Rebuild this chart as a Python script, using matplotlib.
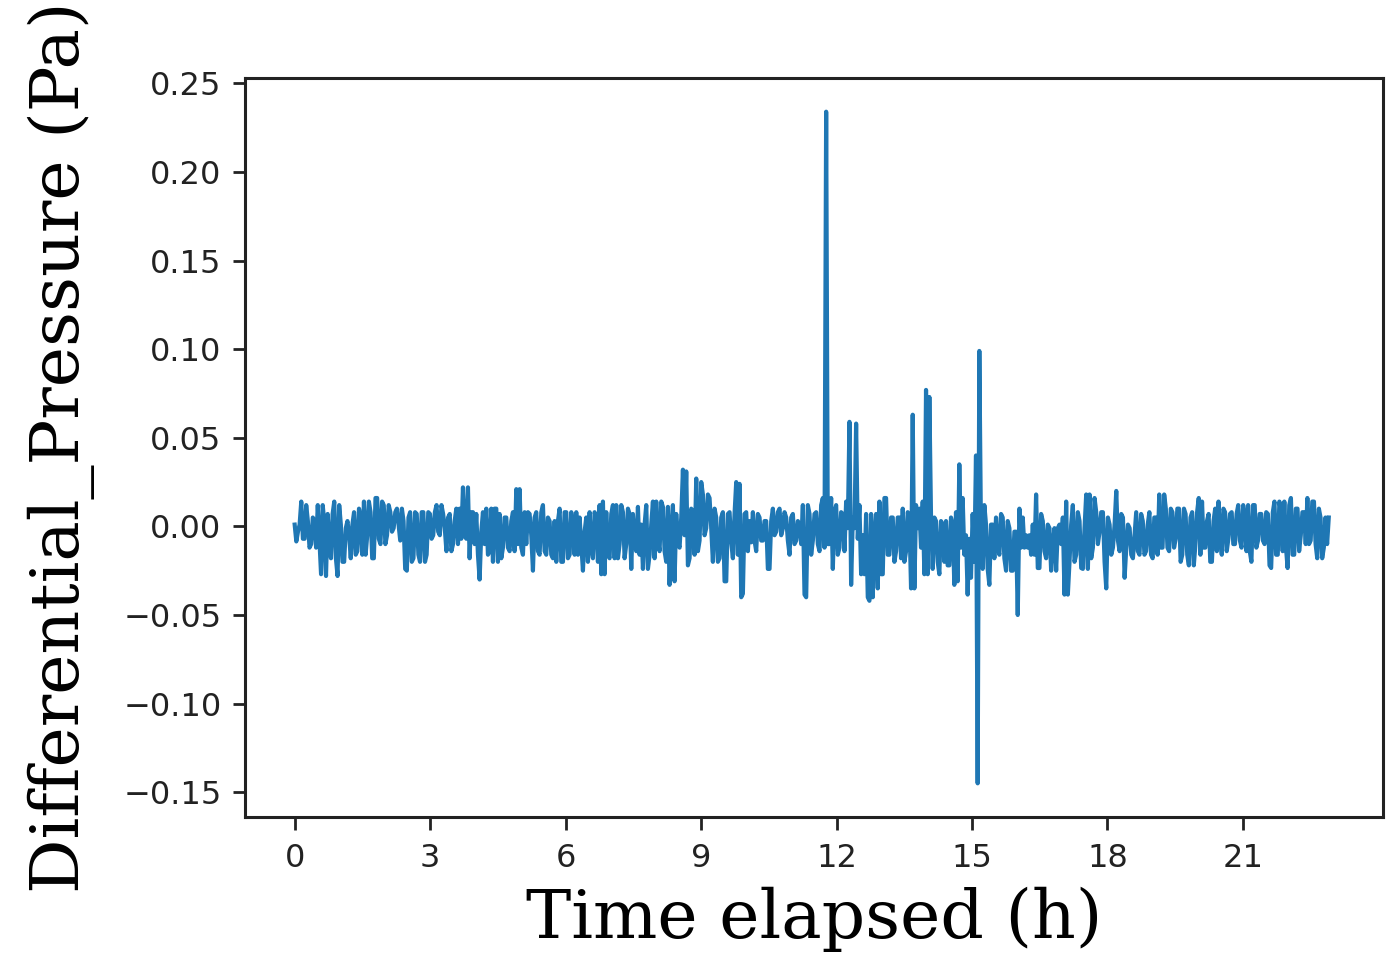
import matplotlib
matplotlib.use("Agg")
import matplotlib.pyplot as plt
import numpy as np

# differential pressure (Pa), in six time blocks (hours)
bloques = [0.0, 3.653, 7.417, 11.18, 14.94, 18.49, 22.9]

p1 = [0.001, -0.0085, -0.003, 0.001, 0.014, -0.007, -0.007, 0.012, 0.003, -0.012,
      -0.010, 0.005, 0.003, -0.012, 0.012, -0.007, -0.027, 0.012, 0.002, -0.028,
      0.007, -0.010, -0.018, 0.007, 0.014, -0.018, -0.028, 0.012, 0.001, -0.020,
      -0.020, -0.001, 0.003, -0.005, -0.018, 0.001, 0.008, -0.016, -0.014, 0.010,
      0.005, -0.016, 0.014, -0.016, -0.005, 0.014, 0.008, -0.018, -0.018, 0.016,
      0.016, -0.007, -0.010, 0.014, 0.012, -0.010, -0.005, 0.012, 0.008, -0.003,
      -0.001, 0.008, 0.010, 0.001, -0.008, 0.010, 0.003, -0.024, -0.025, 0.005,
      0.008, -0.020, -0.018, 0.008, 0.007, -0.016, -0.020, 0.008, 0.008, -0.020,
      -0.016, 0.008, 0.007, -0.007, -0.005, 0.008, 0.012, -0.003, -0.005, 0.012,
      0.007, -0.001, -0.014, 0.005, 0.007, -0.014, -0.010, 0.003, 0.010, -0.010]

p2 = [0.010, -0.007, 0.022, -0.005, -0.007, 0.022, -0.018, 0.008, 0.008, -0.010,
      0.007, -0.016, -0.030, -0.003, 0.008, -0.010, 0.010, -0.016, -0.014, 0.010,
      -0.020, 0.010, 0.010, -0.020, 0.007, -0.018, -0.012, 0.005, 0.005, -0.012,
      -0.014, 0.003, 0.008, -0.014, 0.021, -0.010, 0.021, -0.012, -0.016, 0.008,
      -0.010, 0.008, 0.007, -0.005, -0.025, 0.005, 0.008, -0.014, -0.016, 0.008,
      0.012, -0.014, -0.016, 0.005, 0.003, -0.016, -0.018, 0.003, -0.020, 0.003,
      0.010, -0.020, -0.020, 0.008, 0.008, -0.018, -0.016, 0.008, 0.001, -0.016,
      0.008, -0.016, 0.005, -0.010, -0.025, -0.003, 0.005, -0.020, 0.008, -0.012,
      -0.018, 0.008, 0.005, -0.020, 0.012, -0.027, 0.014, -0.027, 0.008, -0.016,
      -0.018, 0.007, 0.012, -0.018, 0.012, -0.018, -0.010, 0.012, 0.008, -0.018,
      -0.010, 0.010]

p3 = [0.007, -0.024, 0.007, -0.007, -0.014, 0.011, -0.016, 0.001, -0.024, 0.001,
      0.012, -0.024, -0.016, 0.001, 0.014, -0.018, 0.014, -0.008, -0.014, 0.014,
      0.011, -0.014, -0.020, 0.011, -0.033, -0.003, 0.012, -0.031, 0.007, -0.009,
      -0.012, 0.005, 0.032, -0.005, 0.031, -0.022, -0.018, 0.010, 0.008, -0.016,
      0.027, -0.014, -0.008, 0.025, 0.018, -0.005, -0.001, 0.018, 0.016, -0.001,
      -0.020, 0.010, 0.005, -0.020, -0.018, 0.005, 0.008, -0.031, -0.031, 0.007,
      0.008, -0.009, -0.018, 0.007, 0.025, -0.016, 0.024, -0.040, -0.038, 0.007,
      0.008, -0.014, 0.003, -0.009, 0.008, -0.008, -0.014, 0.007, 0.005, -0.008,
      -0.008, 0.003, 0.003, -0.024, -0.024, 0.003, 0.010, -0.005, -0.003, 0.008,
      0.010, -0.005, -0.001, 0.008, 0.005, -0.008, -0.016, 0.005, 0.007, -0.010,
      -0.008, 0.003]

p4 = [0.001, -0.010, 0.012, -0.0385, -0.040, 0.012, 0.007, -0.016, -0.008, 0.007,
      0.008, -0.010, -0.014, 0.012, 0.016, -0.012, 0.234, -0.010, -0.010, 0.016,
      -0.024, 0.008, 0.012, -0.016, -0.012, 0.008, 0.007, -0.014, 0.014, -0.001,
      0.059, -0.033, 0.005, -0.001, 0.058, -0.007, 0.012, -0.027, -0.005, -0.027,
      0.007, -0.040, -0.042, 0.007, -0.040, -0.005, 0.007, -0.035, 0.014, -0.027,
      -0.027, 0.016, 0.016, -0.016, -0.016, 0.005, 0.005, -0.020, -0.014, 0.005,
      0.005, -0.018, 0.010, -0.020, -0.014, 0.008, 0.005, -0.035, 0.063, -0.035,
      0.012, -0.001, 0.010, -0.012, 0.014, -0.027, 0.077, -0.027, 0.073, 0.005,
      -0.024, 0.005, 0.003, -0.020, -0.027, 0.003, 0.001, -0.020, 0.003, -0.022,
      -0.022, 0.005, 0.001, -0.033, 0.008, -0.031, 0.035, -0.012, 0.016, -0.016,
      -0.005, -0.0385]

p5 = [-0.007, -0.029, 0.007, -0.020, 0.040, -0.145, 0.099, -0.005, -0.024, 0.012,
      0.001, -0.024, -0.033, 0.001, 0.001, -0.018, 0.005, -0.012, -0.016, 0.007,
      0.005, -0.018, -0.025, 0.003, -0.001, -0.025, -0.025, -0.003, -0.003, -0.050,
      0.010, -0.012, 0.005, -0.012, -0.005, -0.012, -0.005, -0.016, 0.001, -0.016,
      0.018, -0.0235, -0.0235, 0.007, 0.003, -0.014, -0.018, 0.001, -0.001, -0.025,
      -0.010, -0.001, -0.025, -0.001, 0.001, -0.010, 0.005, -0.0385, 0.014, -0.0385,
      -0.020, 0.001, 0.012, -0.020, -0.016, 0.008, 0.003, -0.0235, -0.024, -0.001,
      0.018, -0.024, 0.018, -0.018, -0.012, 0.016, 0.008, -0.010, -0.003, 0.008,
      0.008, -0.020, -0.035, 0.005, 0.001, -0.016, -0.012, 0.001, 0.020, -0.008,
      -0.014, 0.007, 0.005, -0.029, -0.012, 0.001]

p6 = [-0.001, -0.016, -0.018, -0.005, 0.008, -0.014, -0.016, 0.007, 0.003, -0.016,
      -0.014, 0.001, 0.008, -0.016, -0.018, 0.005, 0.005, -0.016, 0.018, -0.012,
      -0.012, 0.018, 0.010, -0.012, -0.014, 0.010, 0.008, -0.012, -0.007, 0.010,
      0.010, -0.020, -0.016, 0.010, 0.007, -0.016, -0.022, 0.005, 0.008, -0.022,
      -0.010, 0.008, 0.016, -0.016, 0.014, -0.012, -0.012, 0.003, 0.007, -0.020,
      -0.020, 0.003, 0.010, -0.014, 0.014, -0.007, -0.016, 0.010, 0.008, -0.014,
      -0.007, 0.007, 0.008, -0.010, -0.010, 0.007, 0.012, -0.008, -0.012, 0.012,
      0.005, -0.014, 0.012, -0.014, -0.020, 0.012, 0.012, -0.012, -0.008, 0.007,
      0.007, -0.008, -0.010, 0.008, 0.007, -0.022, -0.0235, 0.008, 0.014, -0.016,
      -0.016, 0.014, 0.008, -0.014, 0.014, -0.012, -0.0235, 0.012, 0.016, -0.016,
      -0.016, 0.010, 0.010, -0.014, -0.005, 0.008, 0.008, -0.010, 0.016, -0.010,
      -0.008, 0.014, 0.014, -0.010, -0.018, 0.010, 0.005, -0.018, -0.012, 0.005,
      -0.010, 0.005]

series = [p1, p2, p3, p4, p5, p6]
horas = [0, 3, 6, 9, 12, 15, 18, 21]

tiempo = []
presion = []
for i in range(len(series)):
    ultimo = (i == len(series) - 1)
    t = np.linspace(bloques[i], bloques[i + 1], len(series[i]), endpoint=ultimo)
    tiempo.extend(t)
    presion.extend(series[i])

tiempo = np.array(tiempo)
presion = np.array(presion)

fig = plt.figure(figsize=(13.92, 9.55), dpi=100)
ax = fig.add_axes([0.176, 0.1445, 0.8175, 0.7738])
ax.plot(tiempo, presion, color="#1f77b4", linewidth=3)

ax.set_xticks(horas)
ax.set_xlim(-1.1, 24.1)
ax.set_yticks([-0.15, -0.10, -0.05, 0.0, 0.05, 0.10, 0.15, 0.20, 0.25])
ax.set_ylim(-0.164, 0.253)
ax.tick_params(labelsize=23, length=9, width=2, pad=8, colors="#222222")
ax.tick_params(axis="x", pad=10)
for s in ax.spines.values():
    s.set_linewidth(2.2)
    s.set_color("#222222")

ax.set_xlabel("Time elapsed (h)", family="DejaVu Serif", fontsize=49, labelpad=9)
ax.set_ylabel("Differential_Pressure (Pa)", family="DejaVu Serif", fontsize=49, labelpad=20)

fig.savefig("out.png", dpi=100)
